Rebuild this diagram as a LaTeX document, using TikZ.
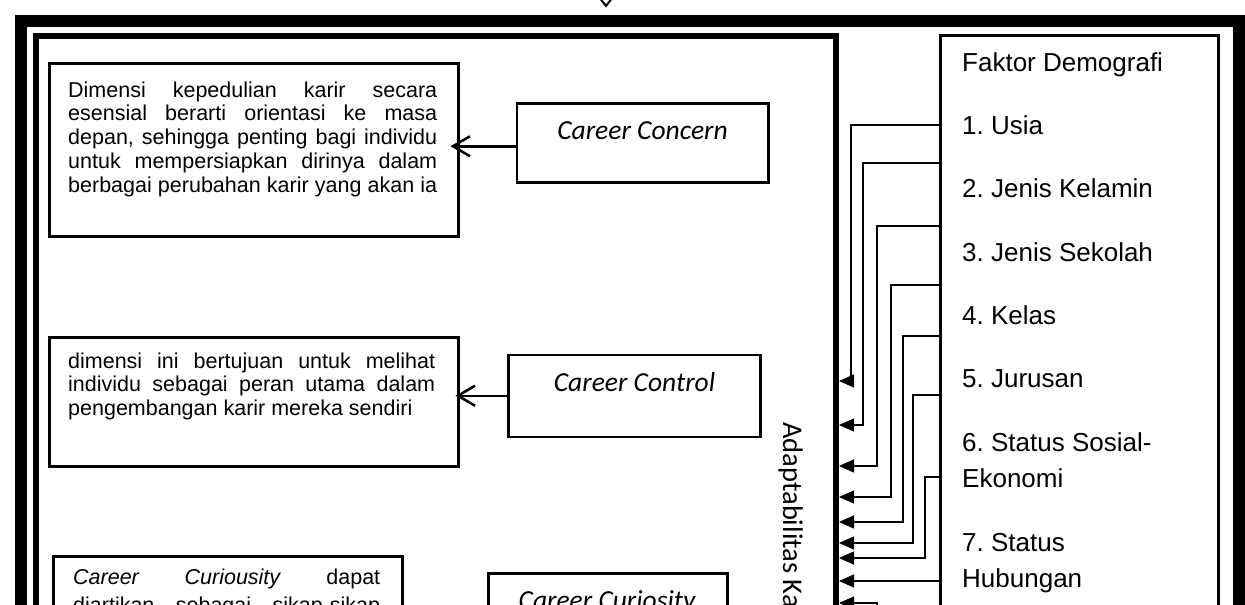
\documentclass[tikz,border=0pt]{standalone}
\usepackage{fontspec}
\setmainfont{Liberation Sans}
\newfontfamily\carlito{Carlito}
\usetikzlibrary{arrows.meta}

\tikzset{
  frame/.style={draw, line width=12pt, inner sep=0pt, anchor=north west},
  bigbox/.style={draw, line width=6pt, inner sep=0pt, anchor=north west},
  factbox/.style={draw, line width=3.5pt, inner sep=0pt, anchor=north west},
  descbox/.style={draw, line width=3pt, inner sep=0pt, anchor=north west},
  dimbox/.style={draw, line width=2.5pt, inner sep=0pt, anchor=north west},
  desctext/.style={inner sep=0pt, anchor=base west, font=\fontsize{21.5}{23.75}\selectfont},
  dimtext/.style={inner sep=0pt, anchor=base, font=\carlito\itshape\fontsize{27.5}{32}\selectfont},
  listtext/.style={inner sep=0pt, anchor=base west, font=\fontsize{26}{30}\selectfont},
  openarrow/.style={line width=2.5pt, -{Straight Barb[length=17pt, width=20pt, line width=2.5pt]}},
  link/.style={line width=1.3pt, -{Triangle[length=15pt, width=13pt]}}
}

\begin{document}
\frenchspacing
\begin{tikzpicture}[x=1pt, y=-1pt]
\useasboundingbox (0,0) rectangle (1245,605);
\fill[white] (0,0) rectangle (1245,605);

% outer frame and the two large panels
\node[frame, minimum width=1218pt, minimum height=700pt] (frame) at (15,15) {};
\node[bigbox, minimum width=800.5pt, minimum height=700pt] (mainbox) at (32.5,33) {};
\node[factbox, minimum width=278pt, minimum height=700pt] (fbox) at (938.5,33.5) {};

% arrow head entering the frame from above
\draw[line width=2pt, line join=miter] (599,-3) -- (606,6) -- (613,-3);

% description boxes
\node[descbox, minimum width=409pt, minimum height=173.5pt] (d1) at (47.5,61.5) {};
\node[descbox, minimum width=409pt, minimum height=129pt] (d2) at (47.5,335.5) {};
\node[descbox, minimum width=349pt, minimum height=200pt] (d3) at (51.5,554.5) {};

\node[desctext] (d1t) at (68,97) {\parbox[t]{369pt}{%
  \makebox[\linewidth][s]{Dimensi kepedulian karir secara}\\
  \makebox[\linewidth][s]{esensial berarti orientasi ke masa}\\
  \makebox[\linewidth][s]{depan, sehingga penting bagi individu}\\
  \makebox[\linewidth][s]{untuk mempersiapkan dirinya dalam}\\
  \makebox[\linewidth][s]{berbagai perubahan karir yang akan ia}}};

\node[desctext] (d2t) at (68,368) {\parbox[t]{367pt}{%
  \makebox[\linewidth][s]{dimensi ini bertujuan untuk melihat}\\
  \makebox[\linewidth][s]{individu sebagai peran utama dalam}\\
  pengembangan karir mereka sendiri}};

\node[desctext] (d3t) at (73,584) {\parbox[t]{307pt}{%
  \makebox[\linewidth][s]{\textit{Career} \textit{Curiousity} dapat}\\[4.5pt]
  \makebox[\linewidth][s]{diartikan sebagai sikap-sikap}}};

% career adaptability dimensions
\node[dimbox, minimum width=251.5pt, minimum height=79pt] (cc) at (515.5,102) {};
\node[dimbox, minimum width=252pt, minimum height=82pt] (cl) at (507,353.5) {};
\node[dimbox, minimum width=239pt, minimum height=81pt] (cu) at (487,572) {};

\node[dimtext] (cct) at (642.5,139) {Career Concern};
\node[dimtext] (clt) at (634.5,391) {Career Control};
\node[dimtext] (cut) at (607,609) {Career Curiosity};

\draw[openarrow, shorten >=-9pt] ([yshift=-3.5pt]cc.west) -- ([yshift=-3.5pt]cc.west -| d1.east);
\draw[openarrow, shorten >=-4pt] (cl.west) -- (cl.west -| d2.east);

% vertical label of the main panel
\node[inner sep=0pt, anchor=base west, rotate=-90, font=\carlito\fontsize{28.5}{32}\selectfont] (adapt) at (783,422) {Adaptabilitas Karir};

% demographic factors
\node[listtext] (f0) at (962,71) {Faktor Demografi};
\node[listtext] (f1) at (962,134) {1. Usia};
\node[listtext] (f2) at (962,197) {2. Jenis Kelamin};
\node[listtext] (f3) at (962,261) {3. Jenis Sekolah};
\node[listtext] (f4) at (962,324) {4. Kelas};
\node[listtext] (f5) at (962,387) {5. Jurusan};
\node[listtext] (f6) at (962,451) {6. Status Sosial-};
\node[listtext] (f6b) at (962,487) {Ekonomi};
\node[listtext] (f7) at (962,551) {7. Status};
\node[listtext] (f7b) at (962,587) {Hubungan};

% factor links into the main panel
\draw[link] (fbox.west |- 0,125) -| (851,381) -- (mainbox.east |- 0,381);
\draw[link] (fbox.west |- 0,163) -| (863,425) -- (mainbox.east |- 0,425);
\draw[link] (fbox.west |- 0,226) -| (877,466) -- (mainbox.east |- 0,466);
\draw[link] (fbox.west |- 0,285) -| (891,497) -- (mainbox.east |- 0,497);
\draw[link] (fbox.west |- 0,336) -| (903,522) -- (mainbox.east |- 0,522);
\draw[link] (fbox.west |- 0,395) -| (913,543) -- (mainbox.east |- 0,543);
\draw[link] (fbox.west |- 0,477) -| (925,558) -- (mainbox.east |- 0,558);
\draw[link] (fbox.west |- 0,581) -- (mainbox.east |- 0,581);
\coordinate (s9) at (877,660);
\draw[link] (s9) |- (mainbox.east |- 0,603);
\end{tikzpicture}
\end{document}
